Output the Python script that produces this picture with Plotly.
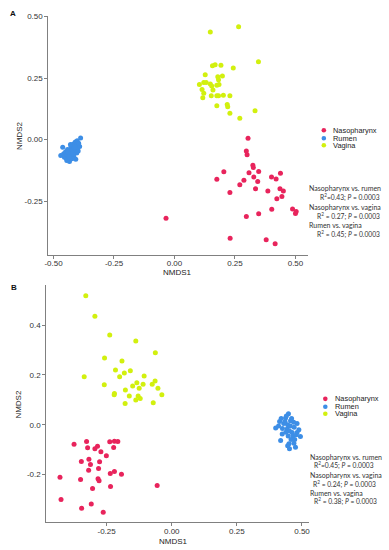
import plotly.graph_objects as go

W, H = 389, 550

# ---------------- Panel A data ----------------
a_naso_x = [0.304, 0.297, 0.300, 0.324, 0.326, 0.204, 0.308, 0.348, 0.175, 0.287, 0.328, 0.344,
            0.401, 0.420, 0.438, 0.270, 0.335, 0.229, 0.386, 0.436, 0.450, 0.444, 0.423, 0.488,
            0.503, 0.500, 0.402, 0.297, 0.348, 0.230, 0.379, 0.416, -0.035]
a_naso_y = [0.005, -0.046, -0.062, -0.104, -0.114, -0.131, -0.135, -0.130, -0.161, -0.165, -0.152, -0.171,
            -0.152, -0.160, -0.137, -0.184, -0.200, -0.215, -0.209, -0.200, -0.209, -0.232, -0.241, -0.282,
            -0.293, -0.301, -0.283, -0.313, -0.302, -0.401, -0.407, -0.424, -0.320]
a_rumen_x = [-0.470, -0.462, -0.458, -0.455, -0.450, -0.448, -0.445, -0.442, -0.440, -0.438, -0.436, -0.434,
             -0.432, -0.430, -0.428, -0.426, -0.424, -0.422, -0.420, -0.418, -0.416, -0.414, -0.412, -0.410,
             -0.408, -0.406, -0.404, -0.402, -0.400, -0.398, -0.396, -0.392, -0.388, -0.430, -0.445, -0.418,
             -0.425, -0.410, -0.440, -0.435]
a_rumen_y = [-0.065, -0.031, -0.058, -0.072, -0.050, -0.076, -0.062, -0.040, -0.070, -0.081, -0.055, -0.089,
             -0.045, -0.066, -0.030, -0.060, -0.078, -0.040, -0.052, -0.018, -0.070, -0.035, -0.045, -0.010,
             -0.080, -0.025, -0.055, -0.005, -0.038, -0.046, -0.015, -0.028, 0.006, -0.020, -0.085, -0.060,
             -0.048, -0.030, -0.052, -0.072]
a_vag_x = [0.148, 0.265, 0.347, 0.243, 0.157, 0.168, 0.192, 0.127, 0.179, 0.198, 0.182, 0.121, 0.131,
           0.103, 0.148, 0.154, 0.175, 0.184, 0.114, 0.159, 0.121, 0.152, 0.175, 0.182, 0.202, 0.229,
           0.117, 0.175, 0.218, 0.220, 0.333, 0.229, 0.270]
a_vag_y = [0.438, 0.459, 0.317, 0.291, 0.300, 0.304, 0.302, 0.264, 0.256, 0.259, 0.243, 0.232, 0.232,
           0.224, 0.226, 0.218, 0.221, 0.224, 0.204, 0.202, 0.188, 0.178, 0.178, 0.178, 0.180, 0.178,
           0.170, 0.138, 0.143, 0.134, 0.117, 0.107, 0.087]

# ---------------- Panel B data ----------------
b_naso_x = [-0.375, -0.327, -0.238, -0.220, -0.207, -0.323, -0.285, -0.295, -0.223, -0.272, -0.251, -0.318,
            -0.347, -0.277, -0.312, -0.319, -0.281, -0.236, -0.220, -0.193, -0.429, -0.350, -0.283, -0.279,
            -0.235, -0.304, -0.056, -0.425, -0.309, -0.346, -0.263]
b_naso_y = [-0.079, -0.068, -0.069, -0.067, -0.068, -0.093, -0.087, -0.097, -0.092, -0.109, -0.125, -0.139,
            -0.148, -0.149, -0.160, -0.183, -0.176, -0.196, -0.188, -0.199, -0.211, -0.220, -0.217, -0.225,
            -0.249, -0.257, -0.245, -0.301, -0.319, -0.336, -0.352]
b_rumen_x = [0.437, 0.414, 0.399, 0.481, 0.456, 0.424, 0.418, 0.450, 0.469, 0.452, 0.475, 0.494, 0.481,
             0.462, 0.443, 0.448, 0.440, 0.430, 0.445, 0.455, 0.460, 0.470, 0.452, 0.438, 0.465, 0.478,
             0.488, 0.425, 0.410, 0.447, 0.458, 0.445, 0.472, 0.435, 0.420, 0.468]
b_rumen_y = [0.027, 0.013, -0.013, 0.005, 0.016, -0.037, -0.064, -0.077, -0.075, -0.097, -0.091, -0.048,
             -0.031, -0.031, -0.017, 0.044, 0.035, 0.005, 0.000, -0.005, 0.025, -0.010, -0.025, -0.030,
             -0.045, -0.040, -0.020, -0.015, -0.005, -0.045, -0.060, -0.085, -0.060, 0.012, 0.025, 0.010]
b_vag_x = [-0.330, -0.295, -0.238, -0.138, -0.063, -0.258, -0.191, -0.216, -0.182, -0.159, -0.200, -0.336,
           -0.106, -0.134, -0.150, -0.125, -0.110, -0.075, -0.064, -0.053, -0.259, -0.178, -0.220, -0.221,
           -0.038, -0.163, -0.129, -0.121, -0.138, -0.179, -0.071]
b_vag_y = [0.519, 0.436, 0.361, 0.337, 0.289, 0.268, 0.256, 0.220, 0.208, 0.217, 0.193, 0.193,
           0.196, 0.169, 0.156, 0.147, 0.163, 0.163, 0.176, 0.147, 0.161, 0.140, 0.125, 0.120,
           0.120, 0.115, 0.115, 0.105, 0.099, 0.085, 0.088]

groups = ["Nasopharynx", "Rumen", "Vagina"]
colors = ["#E8245C", "#3D8EE6", "#D2F00E"]

a_ticks_x = [-0.5, -0.25, 0.0, 0.25, 0.5]
a_ticks_x_text = ["-0.50", "-0.25", "0.00", "0.25", "0.50"]
a_ticks_y = [-0.25, 0.0, 0.25, 0.5]
a_ticks_y_text = ["-0.25", "0.00", "0.25", "0.50"]
b_ticks_x = [-0.25, 0.0, 0.25, 0.5]
b_ticks_x_text = ["-0.25", "0.00", "0.25", "0.50"]
b_ticks_y = [-0.2, 0.0, 0.2, 0.4]
b_ticks_y_text = ["-0.2", "0.0", "0.2", "0.4"]

stats_a = ["Nasopharynx vs. rumen", "R<sup>2</sup>=0.43; <i>P</i> = 0.0003",
           "Nasopharynx vs. vagina", "R<sup>2</sup> = 0.27; <i>P</i> = 0.0003",
           "Rumen vs. vagina", "R<sup>2</sup> = 0.45; <i>P</i> = 0.0003"]
stats_b = ["Nasopharynx vs. rumen", "R<sup>2</sup>=0.45; <i>P</i> = 0.0003",
           "Nasopharynx vs. vagina", "R<sup>2</sup> = 0.24; <i>P</i> = 0.0003",
           "Rumen vs. vagina", "R<sup>2</sup> = 0.38; <i>P</i> = 0.0003"]

def px(x):
    return x / W

def py(y):
    return 1 - y / H

fig = go.Figure()
data_a = [(a_naso_x, a_naso_y), (a_rumen_x, a_rumen_y), (a_vag_x, a_vag_y)]
data_b = [(b_naso_x, b_naso_y), (b_rumen_x, b_rumen_y), (b_vag_x, b_vag_y)]
for (xs, ys), g, c in zip(data_a, groups, colors):
    fig.add_trace(go.Scatter(x=xs, y=ys, mode="markers", name=g, showlegend=False,
                             marker=dict(size=5, color=c), xaxis="x", yaxis="y"))
for (xs, ys), g, c in zip(data_b, groups, colors):
    fig.add_trace(go.Scatter(x=xs, y=ys, mode="markers", name=g, showlegend=False,
                             marker=dict(size=5, color=c), xaxis="x2", yaxis="y2"))

axis_common = dict(showline=True, linecolor="#808080", linewidth=1.2, ticks="outside",
                   ticklen=3, tickwidth=1, tickcolor="#808080", showgrid=False, zeroline=False,
                   tickfont=dict(family="Liberation Sans, Arial", size=8, color="#333333"))

fig.update_layout(
    width=W, height=H, margin=dict(l=0, r=0, t=0, b=0),
    plot_bgcolor="white", paper_bgcolor="white", showlegend=False,
    xaxis=dict(domain=[px(45), px(308)], range=[-0.521, 0.552], anchor="y",
               tickvals=a_ticks_x, ticktext=a_ticks_x_text, ticklabelstandoff=-2, **axis_common),
    yaxis=dict(domain=[py(253), py(13)], range=[-0.468, 0.503], anchor="x",
               tickvals=a_ticks_y, ticktext=a_ticks_y_text, **axis_common),
    xaxis2=dict(domain=[px(43), px(309)], range=[-0.481, 0.527], anchor="y2",
                tickvals=b_ticks_x, ticktext=b_ticks_x_text, ticklabelstandoff=-2, **axis_common),
    yaxis2=dict(domain=[py(522), py(284)], range=[-0.392, 0.560], anchor="x2",
                tickvals=b_ticks_y, ticktext=b_ticks_y_text, **axis_common),
)

ann = []
tfont = dict(family="Liberation Sans, Arial", size=8, color="#222222")
# Axis titles
for (cx, cy, txt, ang) in [(176, 271, "NMDS1", 0), (15, 133, "NMDS2", -90),
                           (172, 541, "NMDS1", 0), (15, 403, "NMDS2", -90)]:
    ann.append(dict(x=px(cx), y=py(cy), xref="paper", yref="paper", text=txt, textangle=ang,
                    showarrow=False, xanchor="center", yanchor="middle", font=tfont))
# Panel letters
ann.append(dict(x=px(9), y=py(11), xref="paper", yref="paper", text="<b>A</b>", showarrow=False,
                xanchor="center", yanchor="middle", font=dict(family="Liberation Sans, Arial", size=8, color="#111")))
ann.append(dict(x=px(10), y=py(286), xref="paper", yref="paper", text="<b>B</b>", showarrow=False,
                xanchor="center", yanchor="middle", font=dict(family="Liberation Sans, Arial", size=8, color="#111")))

# Legends (manual)
shapes = []
lfont = dict(family="Liberation Sans, Arial", size=7.4, color="#222222")
for (mx, tx, ys) in [(324, 331, [128, 136, 143]), (325.5, 333, [398, 406, 413])]:
    for g, c, yy in zip(groups, colors, ys):
        shapes.append(dict(type="circle", xref="paper", yref="paper", xsizemode="pixel", ysizemode="pixel",
                           xanchor=px(mx), yanchor=py(yy), x0=-2.3, x1=2.3, y0=-2.3, y1=2.3,
                           fillcolor=c, line=dict(width=0)))
        ann.append(dict(x=px(tx), y=py(yy), xref="paper", yref="paper", text=g, showarrow=False,
                        xanchor="left", yanchor="middle", font=lfont))

# Stats text: headers left-aligned, R2 lines right-aligned
sfont = dict(family="Lato, Liberation Sans", size=7.0, color="#333333")
rfont = dict(family="Lato, Liberation Sans", size=6.7, color="#333333")
for lines, xs, anchors, ys in [
        (stats_a, [307, 383, 307, 383, 307, 383], ["left", "right"] * 3,
         [186.5, 195.5, 205, 214, 223.5, 232.5]),
        (stats_b, [308, 377, 308, 379, 308, 380], ["left", "right"] * 3,
         [456, 465, 475, 483.5, 492.5, 501])]:
    for i, (t, xx, an, yy) in enumerate(zip(lines, xs, anchors, ys)):
        ann.append(dict(x=px(xx), y=py(yy), xref="paper", yref="paper", text=t, showarrow=False,
                        xanchor=an, yanchor="middle", font=sfont if i % 2 == 0 else rfont))

fig.update_layout(annotations=ann, shapes=shapes)
fig.write_html("out.html", config={"displayModeBar": False},
               post_script="document.body.style.margin='0px';document.body.style.overflow='hidden';")
